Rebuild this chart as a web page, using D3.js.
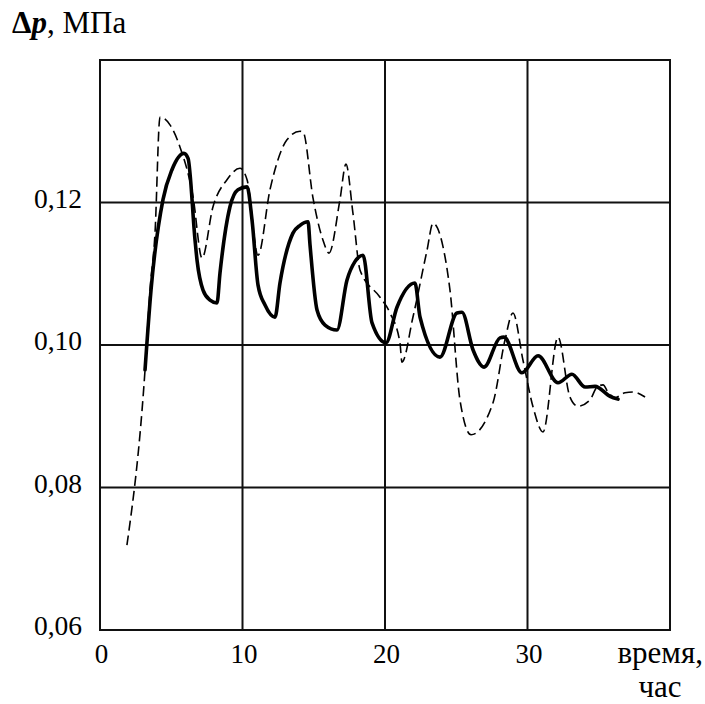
<!DOCTYPE html>
<html>
<head>
<meta charset="utf-8">
<script src="https://cdn.jsdelivr.net/npm/d3@7"></script>
<style>
  html, body { margin: 0; padding: 0; background: #fff; }
  svg { display: block; }
</style>
</head>
<body>
<script>
// ---- data ----
const xTicks = [0, 10, 20, 30];
const xTickLabels = ["0", "10", "20", "30"];
const yTicks = [0.06, 0.08, 0.10, 0.12];
const yTickLabels = ["0,06", "0,08", "0,10", "0,12"];
const xDomain = [0, 40];
const yDomain = [0.06, 0.14];

// bold solid series (time, hours ; Δp, MPa)
const solidT = [3.16, 3.58, 4.42, 5.05, 5.89, 6.18, 6.67, 6.81, 7.23, 7.72, 8.21, 8.42, 9.12, 9.68, 10.32, 10.67, 11.09, 11.58, 12.28, 12.63, 13.54, 14.04, 14.6, 14.74, 15.23, 15.79, 16.63, 17.33, 17.89, 18.46, 19.09, 20.07, 20.84, 22.1, 22.46, 23.86, 25.05, 25.4, 26.18, 26.95, 28.07, 28.35, 29.61, 30.74, 32.14, 33.12, 34.04, 34.74, 35.79, 36.35];
const solidV = [0.0965, 0.1077, 0.1204, 0.1246, 0.1269, 0.1262, 0.1147, 0.1119, 0.1077, 0.1063, 0.1059, 0.1101, 0.1194, 0.1218, 0.1222, 0.1175, 0.1084, 0.1056, 0.1039, 0.1087, 0.1157, 0.1168, 0.1173, 0.1140, 0.1049, 0.1028, 0.1021, 0.1091, 0.1117, 0.1126, 0.1031, 0.1003, 0.1053, 0.1087, 0.1039, 0.0983, 0.1045, 0.1046, 0.0993, 0.0969, 0.1010, 0.1011, 0.0961, 0.0985, 0.0947, 0.0959, 0.0941, 0.0942, 0.0928, 0.0924];

// thin dashed series
const dashT = [1.89, 3.16, 3.51, 3.86, 4.21, 4.91, 5.61, 6.53, 7.16, 7.93, 8.91, 9.82, 10.32, 11.09, 11.93, 13.12, 14.04, 14.25, 14.95, 15.65, 16.07, 16.84, 17.26, 17.75, 18.25, 19.65, 20.35, 21.05, 21.19, 21.96, 22.95, 23.37, 24.07, 24.56, 25.26, 26.04, 27.58, 28.42, 28.98, 29.68, 30.39, 31.09, 32.14, 32.98, 33.54, 34.39, 34.88, 35.3, 35.65, 36.14, 36.84, 37.4, 38.25];
const dashV = [0.0719, 0.0965, 0.1077, 0.1157, 0.1320, 0.1309, 0.1278, 0.1208, 0.1122, 0.1194, 0.1232, 0.1248, 0.1232, 0.1126, 0.1218, 0.1288, 0.1300, 0.1299, 0.1206, 0.1147, 0.1129, 0.1204, 0.1254, 0.1185, 0.1105, 0.1067, 0.1045, 0.1003, 0.0976, 0.1039, 0.1133, 0.1171, 0.1138, 0.1077, 0.0923, 0.0874, 0.0919, 0.1007, 0.1045, 0.0979, 0.0913, 0.0878, 0.1011, 0.0927, 0.0914, 0.0923, 0.0941, 0.0944, 0.0934, 0.0926, 0.0933, 0.0934, 0.0927];

// ---- layout ----
const W = 705, H = 704;
const plot = { left: 100, right: 670, top: 60, bottom: 630 };
const SERIF = '"Liberation Serif", "Times New Roman", Tinos, serif';

const svg = d3.select("body").append("svg").attr("width", W).attr("height", H);

const x = d3.scaleLinear().domain(xDomain).range([plot.left, plot.right]);
const y = d3.scaleLinear().domain(yDomain).range([plot.bottom, plot.top]);

// grid
const grid = svg.append("g").attr("stroke", "#111").attr("stroke-width", 2).attr("fill", "none");
grid.selectAll("line.v").data(xTicks.filter(d => d > xDomain[0])).join("line")
  .attr("x1", d => x(d)).attr("x2", d => x(d)).attr("y1", plot.top).attr("y2", plot.bottom);
grid.selectAll("line.h").data(yTicks.filter(d => d > yDomain[0])).join("line")
  .attr("y1", d => y(d)).attr("y2", d => y(d)).attr("x1", plot.left).attr("x2", plot.right);
grid.append("rect")
  .attr("x", plot.left).attr("y", plot.top)
  .attr("width", plot.right - plot.left).attr("height", plot.bottom - plot.top);

// axes labels via d3 axes (lines hidden)
const xAxis = svg.append("g").attr("transform", `translate(0,${plot.bottom})`)
  .call(d3.axisBottom(x).tickValues(xTicks).tickFormat((d, i) => xTickLabels[i]).tickSize(0).tickPadding(14));
xAxis.attr("font-family", null).attr("font-size", null);
xAxis.select(".domain").remove();
xAxis.selectAll("text").style("font-size", "27px").style("font-family", SERIF).attr("fill", "#000")
  .attr("dy", "0.7em").attr("dx", 1);

const yAxis = svg.append("g").attr("transform", `translate(${plot.left},0)`)
  .call(d3.axisLeft(y).tickValues(yTicks).tickFormat((d, i) => yTickLabels[i]).tickSize(0).tickPadding(18));
yAxis.attr("font-family", null).attr("font-size", null);
yAxis.select(".domain").remove();
yAxis.selectAll("text").style("font-size", "27.5px").style("font-family", SERIF).attr("fill", "#000")
  .attr("dy", "0.18em");

// series
const line = d3.line().x(d => x(d[0])).y(d => y(d[1])).curve(d3.curveMonotoneX);
const dashData = dashT.map((t, i) => [t, dashV[i]]);
const solidData = solidT.map((t, i) => [t, solidV[i]]);

svg.append("path").datum(dashData).attr("d", line)
  .attr("fill", "none").attr("stroke", "#000").attr("stroke-width", 1.6)
  .attr("stroke-dasharray", "10,5");
svg.append("path").datum(solidData).attr("d", line)
  .attr("fill", "none").attr("stroke", "#000").attr("stroke-width", 3.6)
  .attr("stroke-linejoin", "round").attr("stroke-linecap", "round");

// axis titles
const yt = svg.append("text").attr("x", 12).attr("y", 33)
  .style("font-size", "31px").style("font-family", SERIF);
yt.append("tspan").style("font-weight", "bold").text("Δ");
yt.append("tspan").style("font-weight", "bold").style("font-style", "italic").text("p");
yt.append("tspan").text(", МПа");

svg.append("text").attr("x", 703).attr("y", 663).attr("text-anchor", "end")
  .style("font-size", "31px").style("font-family", SERIF).text("время,");
svg.append("text").attr("x", 660).attr("y", 697).attr("text-anchor", "middle")
  .style("font-size", "31px").style("font-family", SERIF).text("час");
</script>
</body>
</html>
